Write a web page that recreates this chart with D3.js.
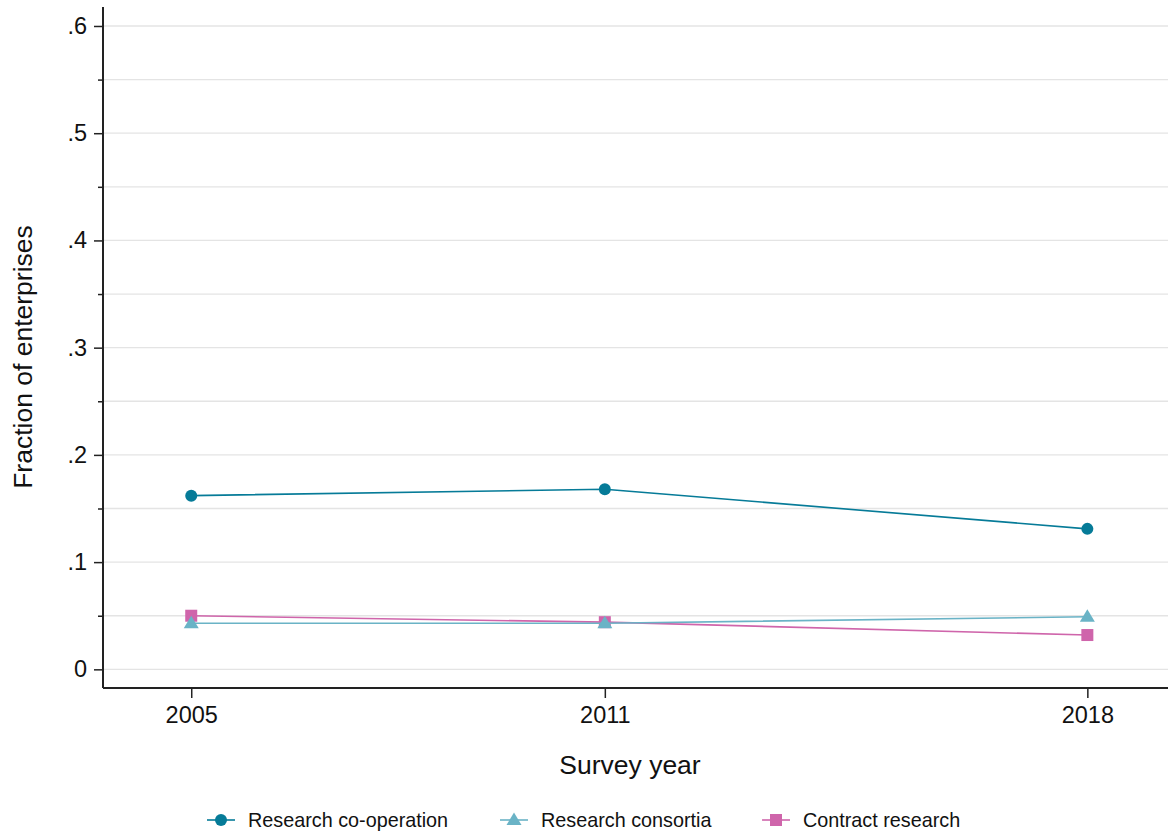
<!DOCTYPE html>
<html><head><meta charset="utf-8">
<script src="https://cdn.jsdelivr.net/npm/d3@7"></script>
<style>body{margin:0;background:#fff;}svg{display:block;font-family:"Liberation Sans",Arial,sans-serif;}</style>
</head><body><svg id="c" width="1170" height="832"></svg>
<script>
const years = [2005, 2011, 2018];
const seriesNames = ["Research co-operation", "Research consortia", "Contract research"];
const cooperation = [0.162, 0.168, 0.131];
const consortia = [0.043, 0.043, 0.049];
const contract = [0.050, 0.044, 0.032];
const yTicks = [0, 0.1, 0.2, 0.3, 0.4, 0.5, 0.6];
const yTickLabels = ["0", ".1", ".2", ".3", ".4", ".5", ".6"];
const yMinor = [0.05, 0.15, 0.25, 0.35, 0.45, 0.55];
const colors = ["#067b98", "#6ab3c6", "#cf65ab"];
const shapes = ["circle", "triangle", "square"];

const svg = d3.select("#c");
const L = 103, R = 1168, T = 7, B = 688;
const x = d3.scaleLinear().domain([2003.72, 2019.17]).range([L, R]);
const y = d3.scaleLinear().domain([-0.0174, 0.6177]).range([B, T]);

// gridlines
svg.append("g").selectAll("line").data(yTicks.concat(yMinor)).join("line")
  .attr("x1", L).attr("x2", R).attr("y1", d => y(d)).attr("y2", d => y(d))
  .attr("stroke", "#e4e4e4").attr("stroke-width", 1.3);

// y axis
const ya = svg.append("g").attr("transform", `translate(${L},0)`)
  .call(d3.axisLeft(y).tickValues(yTicks).tickFormat((d, i) => yTickLabels[i]).tickSize(9).tickPadding(7));
ya.attr("font-size", null).attr("font-family", null);
ya.select(".domain").remove();
ya.selectAll(".tick line").attr("stroke", "#222").attr("stroke-width", 1.5);
ya.selectAll("text").attr("font-size", 23.5).attr("fill", "#111");
const ym = svg.append("g").attr("transform", `translate(${L},0)`)
  .call(d3.axisLeft(y).tickValues(yMinor).tickFormat("").tickSize(5));
ym.select(".domain").remove();
ym.selectAll(".tick line").attr("stroke", "#222").attr("stroke-width", 1.5);
svg.append("line").attr("x1", L).attr("x2", L).attr("y1", T).attr("y2", B).attr("stroke", "#222").attr("stroke-width", 2);

// x axis
const xa = svg.append("g").attr("transform", `translate(0,${B})`)
  .call(d3.axisBottom(x).tickValues(years).tickFormat(d3.format("d")).tickSize(10).tickPadding(8));
xa.attr("font-size", null).attr("font-family", null);
xa.select(".domain").remove();
xa.selectAll(".tick line").attr("stroke", "#222").attr("stroke-width", 1.5);
xa.selectAll("text").attr("font-size", 23.5).attr("fill", "#111");
svg.append("line").attr("x1", L).attr("x2", R).attr("y1", B).attr("y2", B).attr("stroke", "#222").attr("stroke-width", 2);

// titles
svg.append("text").attr("x", 630).attr("y", 774).attr("text-anchor", "middle")
  .attr("font-size", 26.5).attr("fill", "#111").text("Survey year");
svg.append("text").attr("transform", `translate(32,357) rotate(-90)`).attr("text-anchor", "middle")
  .attr("font-size", 26.5).attr("fill", "#111").text("Fraction of enterprises");

const data = [cooperation, consortia, contract];
const line = d3.line().x((d, i) => x(years[i])).y(d => y(d));

function marker(g, shape, color, cx, cy) {
  if (shape === "circle") g.append("circle").attr("cx", cx).attr("cy", cy).attr("r", 6).attr("fill", color);
  else if (shape === "triangle") g.append("path").attr("d", `M${cx},${cy - 7.5}L${cx + 7.5},${cy + 5}L${cx - 7.5},${cy + 5}Z`).attr("fill", color);
  else g.append("rect").attr("x", cx - 6).attr("y", cy - 6).attr("width", 12).attr("height", 12).attr("fill", color);
}

[0, 2, 1].forEach(s => {
  const vals = data[s];
  const g = svg.append("g");
  g.append("path").attr("d", line(vals)).attr("fill", "none").attr("stroke", colors[s]).attr("stroke-width", 1.6);
  vals.forEach((v, i) => marker(g, shapes[s], colors[s], x(years[i]), y(v)));
});

// legend
const legX = [207, 500, 762];
seriesNames.forEach((n, s) => {
  const g = svg.append("g");
  const cy = 820;
  g.append("line").attr("x1", legX[s]).attr("x2", legX[s] + 28).attr("y1", cy).attr("y2", cy).attr("stroke", colors[s]).attr("stroke-width", 1.6);
  marker(g, shapes[s], colors[s], legX[s] + 14, cy);
  g.append("text").attr("x", legX[s] + 41).attr("y", cy + 7).attr("font-size", 19.8).attr("fill", "#111").text(n);
});
</script></body></html>
